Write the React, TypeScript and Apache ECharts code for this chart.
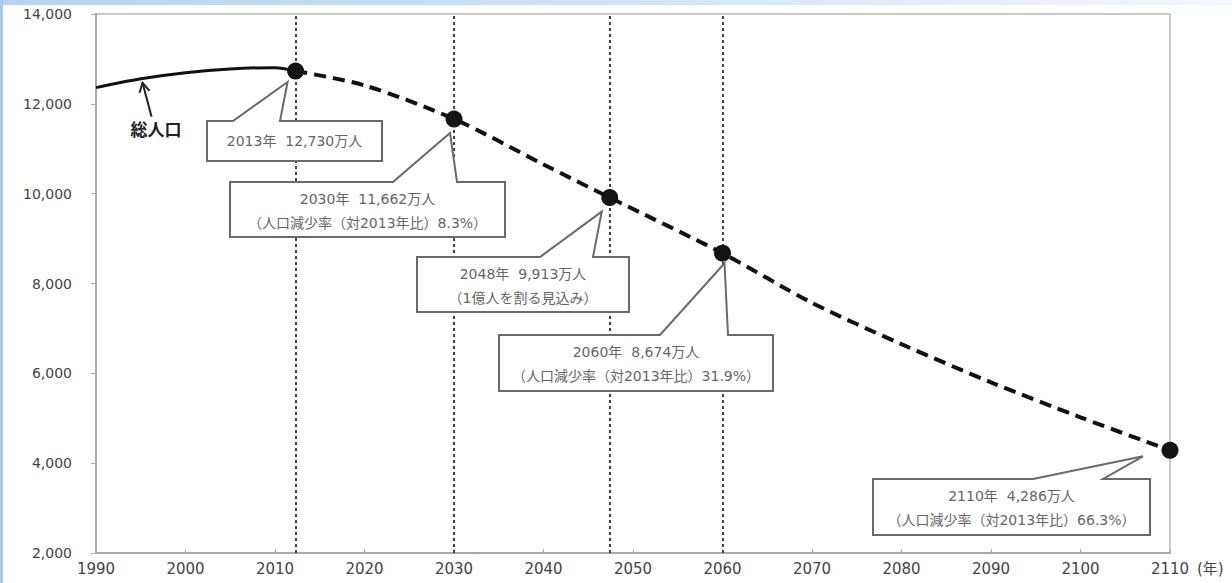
import React, { useEffect, useRef } from "react";
import * as echarts from "echarts";

// ---- data ----
const actualYears = [1990, 1995, 2000, 2005, 2010, 2012.3];
const actualValues = [12361, 12557, 12693, 12777, 12806, 12730];

const projYears = [2012.3, 2020, 2030, 2040, 2047.4, 2060, 2070, 2080, 2090, 2100, 2110];
const projValues = [12730, 12410, 11662, 10650, 9913, 8674, 7570, 6650, 5800, 5020, 4286];

const keyYears = [2012.3, 2030, 2047.4, 2060, 2110];
const keyValues = [12730, 11662, 9913, 8674, 4286];
const guideYears = [2012.3, 2030, 2047.4, 2060];

const calloutTexts = [
  ["2013年  12,730万人"],
  ["2030年  11,662万人", "（人口減少率（対2013年比）8.3%）"],
  ["2048年  9,913万人", "（1億人を割る見込み）"],
  ["2060年  8,674万人", "（人口減少率（対2013年比）31.9%）"],
  ["2110年  4,286万人", "（人口減少率（対2013年比）66.3%）"],
];
const seriesLabel = "総人口";
const xTickMin = 1990;
const xTickMax = 2110;
const yTickMin = 2000;
const yTickMax = 14000;

// ---- layout of annotation boxes (pixels) ----
const calloutLayout = [
  { box: [207, 121, 382, 161], base: [233, 280], tipOff: [-8, 11] },
  { box: [230, 182, 505, 237], base: [393, 457], tipOff: [-4, 14] },
  { box: [417, 257, 629, 312], base: [540, 593], tipOff: [-8, 14] },
  { box: [499, 335, 773, 391], base: [660, 728], tipOff: [2, 10] },
  { box: [873, 479, 1150, 535], base: [1033, 1103], tipOff: [-27, 6] },
];

const FONT = '"Noto Sans CJK JP", "Noto Sans", sans-serif';
const NUMFONT = '"DejaVu Sans", "Noto Sans CJK JP", sans-serif';

export default function App() {
  const ref = useRef<HTMLDivElement>(null);
  useEffect(() => {
    if (!ref.current) return;
    const chart = echarts.init(ref.current, null, { renderer: "svg" });
    chart.setOption({
      animation: false,
      grid: {
        left: 96,
        right: 62,
        top: 14,
        bottom: 30,
        show: true,
        borderColor: "#c8c8c8",
        borderWidth: 2,
        backgroundColor: "transparent",
      },
      xAxis: {
        type: "value",
        min: xTickMin,
        max: xTickMax,
        interval: 10,
        name: "(年)",
        nameLocation: "end",
        nameGap: 27,
        nameTextStyle: {
          color: "#444",
          fontSize: 15,
          fontFamily: NUMFONT,
          verticalAlign: "top",
          padding: [8, 0, 0, 0],
        },
        axisLine: { lineStyle: { color: "#aaa", width: 2 } },
        axisTick: { inside: true, length: 4, lineStyle: { color: "#aaa" } },
        axisLabel: {
          color: "#444",
          fontSize: 15,
          fontFamily: NUMFONT,
          margin: 8,
          formatter: (v: number) => String(v),
        },
        splitLine: { show: false },
      },
      yAxis: {
        type: "value",
        min: yTickMin,
        max: yTickMax,
        interval: 2000,
        axisLine: { show: true, lineStyle: { color: "#aaa", width: 2 } },
        axisTick: { show: true, length: 5, lineStyle: { color: "#aaa" } },
        axisLabel: {
          color: "#444",
          fontSize: 14,
          fontFamily: NUMFONT,
          margin: 24,
          formatter: (v: number) => v.toLocaleString("en-US"),
        },
        splitLine: { show: false },
      },
      series: [
        {
          type: "line",
          data: actualYears.map((y, i) => [y, actualValues[i]]),
          smooth: 0.3,
          showSymbol: false,
          z: 3,
          lineStyle: { color: "#111", width: 3 },
          markLine: {
            silent: true,
            symbol: "none",
            label: { show: false },
            lineStyle: { type: [3, 3], color: "#444", width: 2 },
            data: guideYears.map((y) => ({ xAxis: y })),
            z: 1,
          },
        },
        {
          type: "line",
          data: projYears.map((y, i) => [y, projValues[i]]),
          smooth: 0.3,
          showSymbol: false,
          z: 3,
          lineStyle: { color: "#111", width: 4, type: [12, 7] },
        },
        {
          type: "scatter",
          data: keyYears.map((y, i) => [y, keyValues[i]]),
          symbolSize: 17,
          itemStyle: { color: "#141414", opacity: 1 },
          z: 20,
        },
      ],
    });

    const elements: any[] = [];
    calloutLayout.forEach((c, i) => {
      const p = chart.convertToPixel({ xAxisIndex: 0, yAxisIndex: 0 }, [
        keyYears[i],
        keyValues[i],
      ]) as number[];
      const tip = [p[0] + c.tipOff[0], p[1] + c.tipOff[1]];
      const [x0, y0, x1, y1] = c.box;
      elements.push({
        type: "polygon",
        z: 10,
        shape: {
          points: [
            [x0, y0],
            [c.base[0], y0],
            tip,
            [c.base[1], y0],
            [x1, y0],
            [x1, y1],
            [x0, y1],
          ],
        },
        style: { fill: "#fff", stroke: "#6a6a6a", lineWidth: 2 },
      });
      const lines = calloutTexts[i];
      const cx = (x0 + x1) / 2;
      lines.forEach((t, j) => {
        const ty = lines.length === 1 ? (y0 + y1) / 2 : y0 + 17 + j * 24;
        elements.push({
          type: "text",
          z: 11,
          x: cx,
          y: ty,
          style: {
            text: t,
            fill: "#666",
            fontSize: 14,
            fontFamily: NUMFONT,
            align: "center",
            verticalAlign: "middle",
          },
        });
      });
    });

    // 総人口 label with arrow pointing to the line
    const arrowHead = chart.convertToPixel({ xAxisIndex: 0, yAxisIndex: 0 }, [
      1995.2,
      12557,
    ]) as number[];
    const hx = arrowHead[0];
    const hy = arrowHead[1] + 4;
    elements.push({
      type: "line",
      z: 10,
      shape: { x1: hx + 9, y1: hy + 34, x2: hx, y2: hy },
      style: { stroke: "#222", lineWidth: 2 },
    });
    elements.push({
      type: "polyline",
      z: 10,
      shape: {
        points: [
          [hx - 3, hy + 10],
          [hx, hy],
          [hx + 7, hy + 8],
        ],
      },
      style: { stroke: "#222", lineWidth: 2, fill: "none" },
    });
    elements.push({
      type: "text",
      z: 10,
      x: 156,
      y: 128,
      style: {
        text: seriesLabel,
        fill: "#222",
        fontSize: 17,
        fontWeight: "bold",
        fontFamily: FONT,
        align: "center",
        verticalAlign: "middle",
      },
    });

    chart.setOption({ graphic: elements });

    return () => chart.dispose();
  }, []);

  return (
    <div
      style={{
        position: "fixed",
        left: 0,
        top: 0,
        width: 1232,
        height: 583,
        background: "#fff",
        overflow: "hidden",
      }}
    >
      <div
        style={{
          position: "absolute",
          left: 0,
          top: 0,
          width: 1232,
          height: 5,
          background: "linear-gradient(to right, #b4d3ef, #d7e7f6 60%, #f4f8fc)",
        }}
      />
      <div
        style={{
          position: "absolute",
          left: 0,
          top: 0,
          width: 3,
          height: 583,
          background: "#a9cbe9",
        }}
      />
      <div
        ref={ref}
        style={{ position: "absolute", left: 0, top: 0, width: 1232, height: 583 }}
      />
    </div>
  );
}
